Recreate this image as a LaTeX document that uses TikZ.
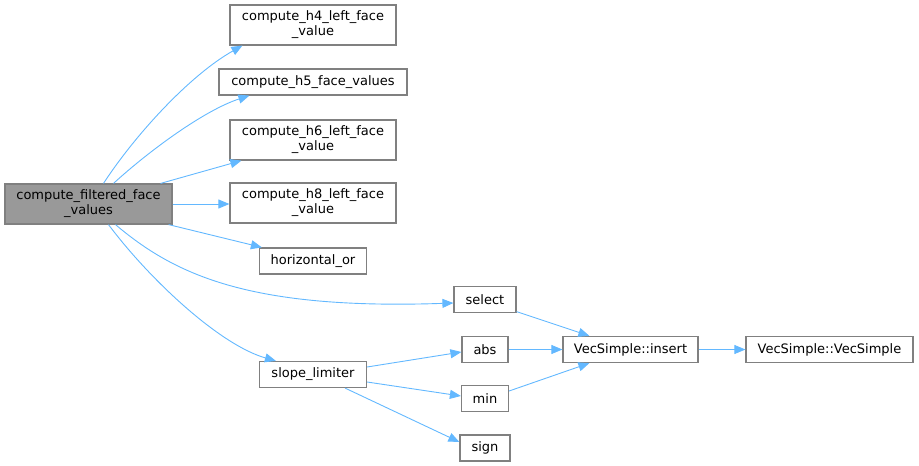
\documentclass[tikz,border=0pt]{standalone}
\usepackage{fontspec}
\setmainfont{DejaVu Sans}
\usetikzlibrary{arrows.meta, positioning}
\definecolor{edgeblue}{HTML}{63B8FF}
\definecolor{boxline}{HTML}{808080}
\definecolor{mainfill}{HTML}{999999}

\begin{document}
\begin{tikzpicture}[
    x=1pt, y=-1pt,
    fnbox/.style={rectangle, draw=boxline, fill=white, line width=1.2pt, inner sep=0pt, align=center, minimum height=26pt, font=\fontsize{13}{15}\selectfont},
    mainbox/.style={fnbox, fill=mainfill},
    arrow/.style={draw=edgeblue, line width=0.9pt, -{Triangle[length=11pt, width=9pt]}}
]
\useasboundingbox (0,0) rectangle (919,466);

% Caller
\node[mainbox, minimum width=167pt, minimum height=40pt] (filtered) at (88.5,204) {compute\_filtered\_face\\\_values};

% Direct callees
\node[fnbox, minimum width=166pt, minimum height=40pt] (h4) at (313,25) {compute\_h4\_left\_face\\\_value};
\node[fnbox, minimum width=188pt] (h5) at (313,82) {compute\_h5\_face\_values};
\node[fnbox, minimum width=166pt, minimum height=40pt] (h6) at (313,140) {compute\_h6\_left\_face\\\_value};
\node[fnbox, minimum width=166pt, minimum height=40pt] (h8) at (313,203) {compute\_h8\_left\_face\\\_value};
\node[fnbox, minimum width=107pt] (hor) at (313,261) {horizontal\_or};
\node[fnbox, minimum width=107pt] (slope) at (313,374.5) {slope\_limiter};
\node[fnbox, minimum width=62pt] (select) at (485,299.5) {select};

% Helpers of slope_limiter
\node[fnbox, minimum width=46pt] (abs) at (485,349.5) {abs};
\node[fnbox, minimum width=47pt] (min) at (485,398.5) {min};
\node[fnbox, minimum width=50pt] (sign) at (485,448) {sign};

% VecSimple
\node[fnbox, minimum width=135pt] (insert) at (630.5,349.5) {VecSimple::insert};
\node[fnbox, minimum width=167pt] (vec) at (829.5,349.5) {VecSimple::VecSimple};

% Calls
\draw[arrow] ([xshift=15pt]filtered.north) .. controls (135,135) and (190,75) .. ([xshift=13pt]h4.south west);
\draw[arrow] ([xshift=25pt]filtered.north) .. controls (150,150) and (205,110) .. ([xshift=31pt]h5.south west);
\draw[arrow] ([xshift=-12pt]filtered.north east) -- ([xshift=12pt]h6.south west);
\draw[arrow] (filtered.east) -- (filtered.east -| h8.west);
\draw[arrow] ([xshift=-4pt]filtered.south east) -- ([xshift=3pt]hor.north west);
\draw[arrow] ([xshift=27pt]filtered.south) .. controls (175,275) and (250,310) .. ([yshift=-3.5pt]select.west);
\draw[arrow] ([xshift=20pt]filtered.south) .. controls (150,280) and (220,345) .. ([xshift=17pt]slope.north west);
\draw[arrow] ([yshift=7.5pt]slope.east) -- ([yshift=-2.5pt]abs.west);
\draw[arrow] ([yshift=-7.5pt]slope.east) -- ([yshift=2.5pt]min.west);
\draw[arrow] ([xshift=-22pt]slope.south east) -- ([yshift=6pt]sign.west);
\draw[arrow] ([yshift=1.5pt]select.south east) -- ([xshift=27pt]insert.north west);
\draw[arrow] (abs.east) -- (insert.west);
\draw[arrow] ([yshift=7.5pt]min.east) -- ([xshift=27pt]insert.south west);
\draw[arrow] (insert.east) -- (vec.west);

\end{tikzpicture}
\end{document}
